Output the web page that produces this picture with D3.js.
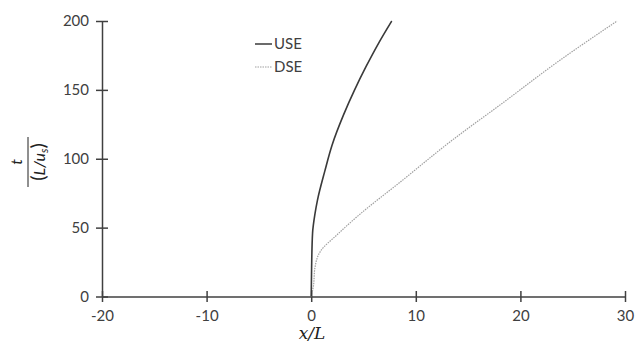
<!DOCTYPE html>
<html>
<head>
<meta charset="utf-8">
<script src="https://cdn.jsdelivr.net/npm/d3@7"></script>
<style>
  body { margin: 0; background: #fff; }
  text { font-family: Lato, "Open Sans", sans-serif; }
</style>
</head>
<body>
<svg id="chart" width="644" height="342"></svg>
<script>
// values
var xTicks = [-20, -10, 0, 10, 20, 30];
var yTicks = [0, 50, 100, 150, 200];

var useX = [0, 0.02, 0.04, 0.13, 0.36, 0.6, 1.3, 2.0, 3.1, 4.15, 5.25, 6.45, 7.7];
var useT = [0, 10, 21, 46, 60, 70, 91, 110, 132, 150, 167, 184, 200];

var dseX = [0, 0.2, 0.36, 0.9, 2.5, 4.7, 8.5, 13.4, 18.4, 23.5, 29.25];
var dseT = [0, 7, 21, 33, 45, 60, 83, 113, 141, 170, 200];

var seriesNames = ["USE", "DSE"];

var svg = d3.select("#chart");
var axisCol = "#404040";

var x = d3.scaleLinear().domain([-20, 30]).range([102, 625]);
var y = d3.scaleLinear().domain([0, 200]).range([296.5, 21]);

// axes, ticks crossing the line
var xAxis = svg.append("g").attr("transform", "translate(0," + y(0) + ")")
  .call(d3.axisBottom(x).tickValues(xTicks).tickFormat(function(d) { return String(d); })
    .tickSizeInner(5.5).tickSizeOuter(0).tickPadding(8));
xAxis.selectAll(".tick line").attr("y1", -5.5);

var yAxis = svg.append("g").attr("transform", "translate(" + x(-20) + ",0)")
  .call(d3.axisLeft(y).tickValues(yTicks).tickSizeInner(6).tickSizeOuter(0).tickPadding(7));
yAxis.selectAll(".tick line").attr("x1", 6);

svg.selectAll(".domain").attr("stroke", axisCol).attr("stroke-width", 1.5);
svg.selectAll(".tick line").attr("stroke", axisCol).attr("stroke-width", 1.5);
svg.selectAll(".tick text").attr("fill", "#404040").style("font-size", "15px")
  .style("font-family", "Lato, 'Open Sans', sans-serif");
xAxis.selectAll(".tick text").attr("dy", "0.75em").attr("y", 13);

// curves
var line = d3.line().x(function(d) { return x(d[0]); }).y(function(d) { return y(d[1]); })
  .curve(d3.curveMonotoneY);

var usePts = d3.zip(useX, useT);
var dsePts = d3.zip(dseX, dseT);

svg.append("path").datum(dsePts).attr("d", line)
  .attr("fill", "none").attr("stroke", "#a0a0a0").attr("stroke-width", 1.2)
  .attr("stroke-dasharray", "1.5,1");

svg.append("path").datum(usePts).attr("d", line)
  .attr("fill", "none").attr("stroke", "#3a3a3a").attr("stroke-width", 1.6);

// legend
var lg = svg.append("g").attr("transform", "translate(255,44)");
seriesNames.forEach(function(name, i) {
  var row = lg.append("g").attr("transform", "translate(0," + (i * 23) + ")");
  row.append("line").attr("x1", 0).attr("x2", 17).attr("y1", 0).attr("y2", 0)
    .attr("stroke", i == 0 ? "#3a3a3a" : "#a0a0a0")
    .attr("stroke-width", i == 0 ? 1.5 : 1.2)
    .attr("stroke-dasharray", i == 0 ? null : "1.5,1");
  row.append("text").attr("x", 19).attr("y", 0).attr("dy", "0.35em")
    .attr("fill", "#404040").style("font-size", "15px").text(name);
});

// x label
svg.append("text").attr("x", 312).attr("y", 339).attr("text-anchor", "middle")
  .style("font-family", "'DejaVu Serif', 'Liberation Serif', serif").style("font-style", "italic")
  .style("font-size", "17px").attr("fill", "#202020").text("x/L");

// y label as a fraction
var yl = svg.append("g").attr("transform", "translate(28,162) rotate(-90)")
  .style("font-family", "'DejaVu Serif', 'Liberation Serif', serif").attr("fill", "#202020");
yl.append("text").attr("x", 0).attr("y", -6).attr("text-anchor", "middle")
  .style("font-style", "italic").style("font-size", "16px").text("t");
yl.append("line").attr("x1", -25).attr("x2", 25).attr("y1", 0).attr("y2", 0)
  .attr("stroke", "#202020").attr("stroke-width", 1);
var den = yl.append("text").attr("x", 0).attr("y", 17).attr("text-anchor", "middle")
  .style("font-size", "16px");
den.append("tspan").style("font-size", "20px").text("(");
den.append("tspan").style("font-style", "italic").text("L/u");
den.append("tspan").style("font-style", "italic").style("font-size", "11px").attr("dy", 3).text("s");
den.append("tspan").attr("dy", -3).style("font-size", "20px").text(")");
</script>
</body>
</html>
